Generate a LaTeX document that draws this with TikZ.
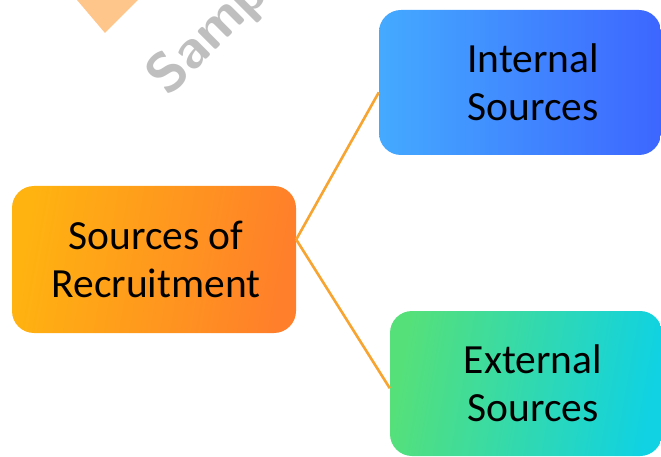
\documentclass[tikz,border=0pt]{standalone}
\usepackage{fontspec}
\setmainfont{Carlito}
\usetikzlibrary{shadings}

\definecolor{orangeA}{HTML}{FFB310}
\definecolor{orangeB}{HTML}{FF7F2A}
\definecolor{blueA}{HTML}{44AAFF}
\definecolor{blueB}{HTML}{3D66FF}
\definecolor{greenA}{HTML}{55E07A}
\definecolor{greenB}{HTML}{10D2E2}
\definecolor{linkcol}{HTML}{F7A431}

\tikzset{
  box/.style={rounded corners=22pt, align=center, inner sep=0pt,
              font=\fontsize{41.5}{48}\selectfont, text=black},
  link/.style={draw=linkcol, line width=2.6pt}
}

\begin{document}
\begin{tikzpicture}[x=1pt, y=-1pt]
      % Marco
      \useasboundingbox (0,0) rectangle (661,457);
      \clip (0,0) rectangle (661,457);

      % Marca de agua
      \fill[orange!45] (77,0) -- (105,33) -- (138,0) -- cycle;
      \node[anchor=base west, rotate=45, text=black!25, inner sep=0pt,
            font=\sffamily\bfseries\fontsize{56}{56}\selectfont] (wm) at (168,98) {Sample};

      % Cajas
      \node[box, minimum width=284pt, minimum height=147pt,
            left color=orangeA, right color=orangeB, shading angle=80]
            (src) at (154,259.5) {\hspace*{4pt}Sources of\\\hspace*{4pt}Recruitment};
      \node[box, minimum width=282pt, minimum height=145pt,
            left color=blueA, right color=blueB]
            (int) at (520,82.5) {\hspace*{26pt}Internal\\\hspace*{26pt}Sources};
      \node[box, minimum width=272pt, minimum height=145pt,
            left color=greenA, right color=greenB, shading angle=80]
            (ext) at (526,383.5) {\hspace*{14pt}External\\\hspace*{14pt}Sources};

      % Conectores
      \draw[link] (src.8) -- (int.184);
      \draw[link] (src.8) -- (ext.182);
    \end{tikzpicture}
\end{document}
